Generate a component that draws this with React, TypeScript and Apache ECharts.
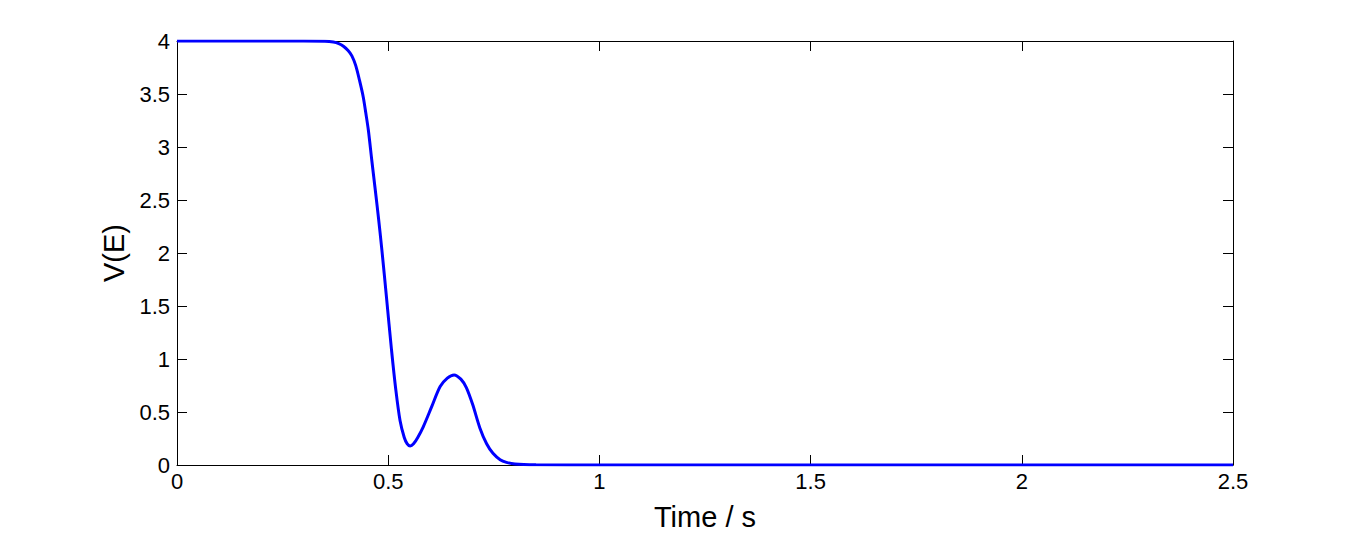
import React, { useEffect, useRef } from "react";
import * as echarts from "echarts";

const timeValues = [0, 0.30, 0.35, 0.37, 0.383, 0.394, 0.405, 0.414, 0.423, 0.432, 0.441, 0.447, 0.453, 0.461, 0.466, 0.471, 0.477, 0.485, 0.496, 0.508, 0.518, 0.528, 0.538, 0.545, 0.552, 0.56, 0.57, 0.583, 0.603, 0.623, 0.640, 0.656, 0.672, 0.685, 0.700, 0.717, 0.733, 0.748, 0.765, 0.780, 0.80, 0.85, 1.0, 2.5];
const vValues = [4, 4, 3.998, 3.99, 3.975, 3.95, 3.91, 3.86, 3.77, 3.63, 3.47, 3.32, 3.16, 2.88, 2.71, 2.54, 2.33, 2.03, 1.58, 1.08, 0.71, 0.42, 0.26, 0.2, 0.18, 0.2, 0.26, 0.36, 0.55, 0.74, 0.82, 0.85, 0.81, 0.73, 0.57, 0.35, 0.20, 0.11, 0.05, 0.025, 0.01, 0.003, 0, 0];

const xName = "Time / s";
const yName = "V(E)";

export default function App() {
  const ref = useRef<HTMLDivElement>(null);
  useEffect(() => {
    if (!ref.current) return;
    const chart = echarts.init(ref.current, null, { renderer: "svg" });
    const font = "'Liberation Sans', Arial, Helvetica, sans-serif";
    const axisLine = { show: true, onZero: false, lineStyle: { color: "#000", width: 1 } };
    const tick = { show: true, inside: true, length: 10, lineStyle: { color: "#000", width: 1 } };
    chart.setOption({
      animation: false,
      backgroundColor: "#fff",
      grid: { left: 177, right: 129, top: 41, bottom: 73, containLabel: false },
      xAxis: [
        {
          type: "value", min: 0, max: 2.5, interval: 0.5, position: "bottom",
          axisLine, axisTick: tick, splitLine: { show: false },
          axisLabel: { color: "#000", fontSize: 22, fontFamily: font, margin: 5 },
          name: xName, nameLocation: "middle", nameGap: 37,
          nameTextStyle: { color: "#000", fontSize: 29, fontFamily: font },
        },
        {
          type: "value", min: 0, max: 2.5, interval: 0.5, position: "top",
          axisLine, axisTick: tick, splitLine: { show: false }, axisLabel: { show: false },
        },
      ],
      yAxis: [
        {
          type: "value", min: 0, max: 4, interval: 0.5, position: "left",
          axisLine, axisTick: tick, splitLine: { show: false },
          axisLabel: { color: "#000", fontSize: 22, fontFamily: font, margin: 7 },
          name: yName, nameLocation: "middle", nameGap: 46,
          nameTextStyle: { color: "#000", fontSize: 29, fontFamily: font },
        },
        {
          type: "value", min: 0, max: 4, interval: 0.5, position: "right",
          axisLine, axisTick: tick, splitLine: { show: false }, axisLabel: { show: false },
        },
      ],
      series: [
        {
          type: "line",
          xAxisIndex: 0, yAxisIndex: 0,
          data: timeValues.map((t, i) => [t, vValues[i]]),
          showSymbol: false, symbol: "none",
          smooth: 0.3,
          lineStyle: { color: "#0000ff", width: 3 },
          itemStyle: { color: "#0000ff" },
        },
      ],
    });
    return () => chart.dispose();
  }, []);
  return <div ref={ref} style={{ position: "fixed", left: 0, top: 0, width: 1362, height: 538 }} />;
}
